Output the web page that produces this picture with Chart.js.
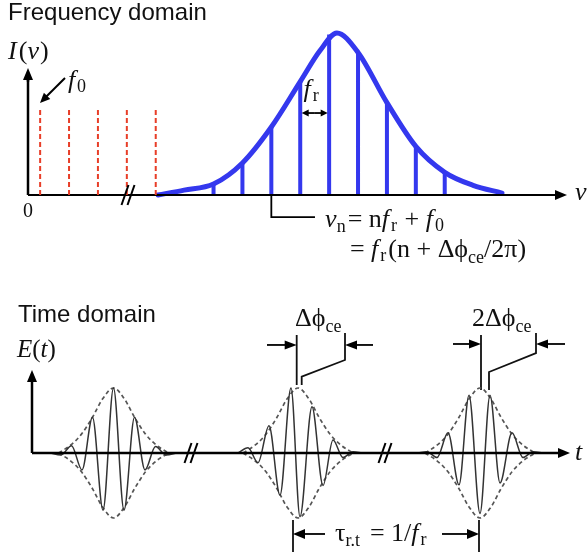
<!DOCTYPE html>
<html lang="en">
    <head>
        <meta charset="UTF-8">
        <title>Frequency comb</title>
        <script src="https://cdn.jsdelivr.net/npm/chart.js@4.4.1/dist/chart.umd.min.js"></script>
        <style>
            body { margin: 0; background: #fff; }
        </style>
    </head>
    <body>
        <canvas id="combChart" width="587" height="560"></canvas>
        <script>
            // ---- frequency domain (x in units of f_r, y = normalised intensity) ----
            var offsetLines = [0.42, 1.42, 2.42, 3.42, 4.42];      // f0 + n*fr, low n
            var offsetHeight = 0.54;
            var combPos = [6.42, 7.42, 8.42, 9.42, 10.42, 11.42, 12.42, 13.42, 14.42];
            var combHeight = [0.068, 0.198, 0.42, 0.70, 0.99, 0.88, 0.57, 0.30, 0.14];
            var spectrumX = [4.5, 5.4, 6.42, 7.42, 8.42, 9.42, 10.1, 10.69, 11.42, 12.42, 13.42, 14.42, 15.4, 16.4];
            var spectrumY = [0, 0.03, 0.068, 0.198, 0.42, 0.70, 0.89, 1.0, 0.88, 0.57, 0.30, 0.14, 0.06, 0.012];

            // ---- time domain (t in arbitrary units, E normalised) ----
            var pulseCenters = [8.15, 26.6, 44.8];
            var envOffset = [-5.5, -4.3, -3.2, -2.1, -1.1, 0, 1.1, 2.1, 3.2, 4.3, 5.5];
            var envAmp = [0, 0.12, 0.29, 0.55, 0.83, 1, 0.83, 0.55, 0.29, 0.12, 0];
            var pulse1T = [1.8, 2.9, 3.95, 5.0, 6.05, 7.1, 8.15, 9.2, 10.25, 11.3, 12.35, 13.4, 14.5];
            var pulse1E = [0, -0.03, 0.11, -0.26, 0.55, -0.88, 1.0, -0.88, 0.55, -0.26, 0.10, -0.03, 0];
            var pulse2T = [20.6, 21.6, 22.6, 23.7, 24.8, 25.9, 26.8, 28.0, 29.1, 30.1, 31.1, 32.1, 33.0];
            var pulse2E = [0, 0.08, -0.15, 0.42, -0.65, 1.0, -0.98, 0.71, -0.5, 0.2, -0.07, 0.02, 0];
            var pulse3T = [38.6, 39.5, 40.5, 41.6, 42.7, 43.7, 44.8, 45.8, 46.8, 48.0, 49.1, 50.1, 51.1];
            var pulse3E = [0, 0.02, -0.07, 0.31, -0.49, 0.89, -0.93, 0.89, -0.46, 0.31, -0.07, 0.02, 0];

            var SERIF = '"Liberation Serif", "Times New Roman", serif';
            var SANS = '"Liberation Sans", Arial, sans-serif';
            var BLUE = 'rgb(52, 56, 238)';
            var RED = 'rgb(232, 62, 40)';

            function sticks(xs, hs) {
                var pts = [];
                xs.forEach(function (x, i) {
                    var h = Array.isArray(hs) ? hs[i] : hs;
                    pts.push({x: x, y: 0}, {x: x, y: h}, {x: x, y: null});
                });
                return pts;
            }
            function zip(xs, ys) {
                return xs.map(function (x, i) { return {x: x, y: ys[i]}; });
            }
            function path(pts) {
                return pts.map(function (p) { return {x: p[0], y: p[1]}; });
            }

            var datasets = [];
            function line(data, xId, yId, color, width, extra) {
                var ds = {data: data, xAxisID: xId, yAxisID: yId, showLine: true,
                    borderColor: color, borderWidth: width, pointRadius: 0, fill: false};
                Object.assign(ds, extra || {});
                datasets.push(ds);
            }

            // frequency domain
            line(sticks(offsetLines, offsetHeight), 'xt', 'yt', RED, 2, {borderDash: [5, 3]});
            line(path([[0, 0], [18.4, 0]]), 'xt', 'yt', '#000', 2);
            line(path([[0, 0], [0, 0.72]]), 'xt', 'yt', '#000', 2.5);
            line(sticks(combPos, combHeight), 'xt', 'yt', BLUE, 4);
            line(zip(spectrumX, spectrumY), 'xt', 'yt', BLUE, 5, {cubicInterpolationMode: 'monotone', borderCapStyle: 'round'});
            line(path([[8.42, 0], [8.42, -0.136], [9.93, -0.136]]), 'xt', 'yt', '#000', 1.8);

            // time domain
            line(path([[0, 0], [53.0, 0]]), 'xb', 'yb', '#000', 2.5);
            line(path([[0, 0], [0, 1.12]]), 'xb', 'yb', '#000', 2.5);
            [[pulse1T, pulse1E], [pulse2T, pulse2E], [pulse3T, pulse3E]].forEach(function (p) {
                line(zip(p[0], p[1]), 'xb', 'yb', '#333', 1.5, {cubicInterpolationMode: 'monotone'});
            });
            pulseCenters.forEach(function (c) {
                var xs = envOffset.map(function (o) { return c + o; });
                line(zip(xs, envAmp), 'xb', 'yb', '#555', 1.7, {borderDash: [4, 3], cubicInterpolationMode: 'monotone'});
                line(zip(xs, envAmp.map(function (a) { return -a; })), 'xb', 'yb', '#555', 1.7, {borderDash: [4, 3], cubicInterpolationMode: 'monotone'});
            });
            // phase markers
            line(path([[26.47, 1.815], [26.47, 1.046]]), 'xb', 'yb', '#111', 1.8);
            line(path([[26.97, 1.046], [26.97, 1.174], [31.3, 1.431], [31.3, 1.846]]), 'xb', 'yb', '#111', 1.8);
            line(path([[44.9, 1.815], [44.9, 0.97]]), 'xb', 'yb', '#111', 1.8);
            line(path([[45.7, 0.969], [45.7, 1.246], [50.4, 1.538], [50.4, 1.846]]), 'xb', 'yb', '#111', 1.8);
            line(path([[26.1, -1.03], [26.1, -1.523]]), 'xb', 'yb', '#111', 1.8);
            line(path([[44.7, -1.03], [44.7, -1.523]]), 'xb', 'yb', '#111', 1.8);

            // text runs: [text, font, dy, extra advance]
            function runs(c, x, y, parts) {
                parts.forEach(function (p) {
                    c.font = p[1];
                    c.fillText(p[0], x, y + (p[2] || 0));
                    x += c.measureText(p[0]).width + (p[3] || 0);
                });
            }
            function arrow(c, x1, y1, x2, y2, len, half, w) {
                var a = Math.atan2(y2 - y1, x2 - x1);
                c.lineWidth = w;
                c.beginPath();
                c.moveTo(x1, y1);
                c.lineTo(x2 - Math.cos(a) * len * 0.8, y2 - Math.sin(a) * len * 0.8);
                c.stroke();
                c.beginPath();
                c.moveTo(x2, y2);
                c.lineTo(x2 - Math.cos(a) * len - Math.sin(a) * half, y2 - Math.sin(a) * len + Math.cos(a) * half);
                c.lineTo(x2 - Math.cos(a) * len + Math.sin(a) * half, y2 - Math.sin(a) * len - Math.cos(a) * half);
                c.closePath();
                c.fill();
            }
            function slashes(c, x, y) {
                c.lineWidth = 2;
                [-3, 3].forEach(function (o) {
                    c.beginPath();
                    c.moveTo(x + o - 3.5, y + 10);
                    c.lineTo(x + o + 3.5, y - 10);
                    c.stroke();
                });
            }

            var annotate = {
                id: 'annotate',
                afterDatasetsDraw: function (chart) {
                    var c = chart.ctx, s = chart.scales;
                    var T = function (x, y) { return [s.xt.getPixelForValue(x), s.yt.getPixelForValue(y)]; };
                    var B = function (x, y) { return [s.xb.getPixelForValue(x), s.yb.getPixelForValue(y)]; };
                    c.save();
                    c.fillStyle = '#000';
                    c.strokeStyle = '#000';
                    c.textBaseline = 'alphabetic';

                    var it = 'italic 26px ' + SERIF, rm = '26px ' + SERIF, sb = '18px ' + SERIF;
                    var p, q;

                    // axes arrowheads
                    p = T(0, 0.70); q = T(0, 0.784); arrow(c, p[0], p[1], q[0], q[1], 12, 5, 2.5);
                    p = T(18.3, 0); q = T(18.65, 0); arrow(c, p[0], p[1], q[0], q[1], 12, 5, 2);
                    p = B(0, 1.1); q = B(0, 1.277); arrow(c, p[0], p[1], q[0], q[1], 12, 5, 2.5);
                    p = B(52.8, 0); q = B(53.8, 0); arrow(c, p[0], p[1], q[0], q[1], 12, 5, 2.5);

                    // breaks
                    p = T(3.46, 0); slashes(c, p[0], p[1]);
                    p = B(15.9, 0); slashes(c, p[0], p[1]);
                    p = B(35.3, 0); slashes(c, p[0], p[1]);

                    // f0 arrow and fr spacing
                    p = T(1.28, 0.722); q = T(0.415, 0.568); arrow(c, p[0], p[1], q[0], q[1], 10, 4.5, 2);
                    p = T(9.9, 0.506); q = T(9.47, 0.506); arrow(c, p[0], p[1], q[0], q[1], 7, 3.5, 1.8);
                    p = T(9.9, 0.506); q = T(10.37, 0.506); arrow(c, p[0], p[1], q[0], q[1], 7, 3.5, 1.8);

                    // phase / period arrows
                    p = B(23.5, 1.662); q = B(26.47, 1.662); arrow(c, p[0], p[1], q[0], q[1], 12, 4.5, 1.8);
                    p = B(34.1, 1.662); q = B(31.3, 1.662); arrow(c, p[0], p[1], q[0], q[1], 12, 4.5, 1.8);
                    p = B(42.1, 1.677); q = B(44.9, 1.677); arrow(c, p[0], p[1], q[0], q[1], 12, 4.5, 1.8);
                    p = B(53.3, 1.677); q = B(50.4, 1.677); arrow(c, p[0], p[1], q[0], q[1], 12, 4.5, 1.8);
                    p = B(29.3, -1.246); q = B(26.1, -1.246); arrow(c, p[0], p[1], q[0], q[1], 12, 5, 1.8);
                    p = B(41.0, -1.246); q = B(44.7, -1.246); arrow(c, p[0], p[1], q[0], q[1], 12, 5, 1.8);

                    // titles
                    c.fillStyle = '#111';
                    p = T(-0.69, 1.08); runs(c, p[0], p[1], [['Frequency domain', '24px ' + SANS]]);
                    p = B(-1.4, 2.015); runs(c, p[0], p[1], [['Time domain', '24px ' + SANS]]);

                    // frequency domain labels
                    p = T(-0.69, 0.84); runs(c, p[0], p[1], [['I', it, 0, 2], ['(', rm], ['ν', it, 0, 1], [')', rm]]);
                    p = T(1.38, 0.66); runs(c, p[0], p[1], [['f', it, 0, 2], ['0', sb, 4]]);
                    c.textAlign = 'center';
                    p = T(0, -0.136); runs(c, p[0], p[1], [['0', '20px ' + SERIF]]);
                    c.textAlign = 'left';
                    p = T(9.53, 0.605); runs(c, p[0], p[1], [['f', it, 0, 2], ['r', sb, 4]]);
                    p = T(18.93, -0.03); runs(c, p[0], p[1], [['ν', 'italic 26px ' + SERIF]]);
                    p = T(10.28, -0.2); runs(c, p[0], p[1], [['ν', it], ['n', sb, 5, 2], ['= n', rm], ['f', it, 0, 2], ['r', sb, 4, 1], [' + ', rm], ['f', it, 0, 2], ['0', sb, 4]]);
                    p = T(11.14, -0.38); runs(c, p[0], p[1], [['= ', rm], ['f', it, 0, 2], ['r', sb, 4, 2], ['(n + Δϕ', rm], ['ce', sb, 6], ['/2π)', rm]]);

                    // time domain labels
                    p = B(-1.5, 1.48); runs(c, p[0], p[1], [['E', 'italic 25px ' + SERIF], ['(', '25px ' + SERIF], ['t', 'italic 25px ' + SERIF], [')', '25px ' + SERIF]]);
                    p = B(54.3, -0.11); runs(c, p[0], p[1], [['t', 'italic 26px ' + SERIF]]);
                    p = B(26.3, 1.954); runs(c, p[0], p[1], [['Δϕ', rm], ['ce', sb, 6]]);
                    p = B(44.0, 1.954); runs(c, p[0], p[1], [['2Δϕ', rm], ['ce', sb, 6]]);
                    p = B(30.3, -1.354); runs(c, p[0], p[1], [['τ', rm], ['r.t', sb, 5, 10], ['= 1/', rm], ['f', it, 0, 2], ['r', sb, 4]]);
                    c.restore();
                }
            };

            var ctx = document.getElementById('combChart').getContext('2d');
            var combChart = new Chart(ctx, {
                type: 'scatter',
                data: { datasets: datasets },
                options: {
                    responsive: false,
                    animation: false,
                    events: [],
                    layout: { padding: 0 },
                    plugins: { legend: { display: false }, tooltip: { enabled: false } },
                    scales: {
                        // top panel: origin at (28, 195) px, 28.9 px per fr, 162 px per unit intensity
                        xt: { type: 'linear', display: false, min: -0.9689, max: 19.343 },
                        yt: { type: 'linear', display: false, min: -2.2531, max: 1.2037 },
                        // bottom panel: origin at (32, 453) px, 10 px per time unit, 65 px per unit field
                        xb: { type: 'linear', display: false, min: -3.2, max: 55.5 },
                        yb: { type: 'linear', display: false, min: -1.6462, max: 6.9692 }
                    }
                },
                plugins: [annotate]
            });
        </script>
    </body>
</html>
